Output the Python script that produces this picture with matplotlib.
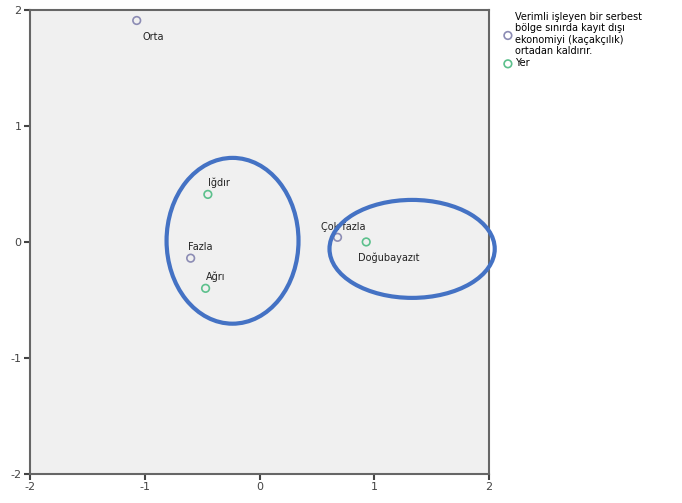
import matplotlib.pyplot as plt
from matplotlib.patches import Ellipse

plt.rcParams["axes.unicode_minus"] = False

# Data
kategori_labels = ["Orta", "Fazla", "Çok fazla"]
kategori_x = [-1.07, -0.60, 0.68]
kategori_y = [1.91, -0.14, 0.04]

yer_labels = ["Iğdır", "Ağrı", "Doğubayazıt"]
yer_x = [-0.45, -0.47, 0.93]
yer_y = [0.41, -0.40, 0.00]

# label offsets (points)
kategori_off = [(4, -14), (-2, 6), (-12, 5)]
yer_off = [(0, 6), (0, 6), (-6, -14)]

legend_1 = ("Verimli işleyen bir serbest\nbölge sınırda kayıt dışı\n"
            "ekonomiyi (kaçakçılık)\nortadan kaldırır.")
legend_2 = "Yer"

fig = plt.figure(figsize=(6.82, 5.03), dpi=100)
ax = fig.add_axes([0.044, 0.058, 0.673, 0.922])
ax.set_facecolor("#f0f0f0")

ax.scatter(kategori_x, kategori_y, s=30, facecolors="none",
           edgecolors="#8c8cb4", linewidths=1.2, label=legend_1, zorder=3)
ax.scatter(yer_x, yer_y, s=30, facecolors="none",
           edgecolors="#5cc08c", linewidths=1.2, label=legend_2, zorder=3)

for lab, x, y, off in zip(kategori_labels, kategori_x, kategori_y, kategori_off):
    ax.annotate(lab, (x, y), xytext=off, textcoords="offset points",
                fontsize=7, color="#222222")
for lab, x, y, off in zip(yer_labels, yer_x, yer_y, yer_off):
    ax.annotate(lab, (x, y), xytext=off, textcoords="offset points",
                fontsize=7, color="#222222")

# hand-drawn highlight ellipses
ax.add_patch(Ellipse((-0.235, 0.01), 1.15, 1.43, fill=False,
                     edgecolor="#4472c4", lw=3, clip_on=False, zorder=4))
ax.add_patch(Ellipse((1.33, -0.06), 1.44, 0.845, fill=False,
                     edgecolor="#4472c4", lw=3, clip_on=False, zorder=4))

ax.set_xlim(-2, 2)
ax.set_ylim(-2, 2)
ax.set_xticks([-2, -1, 0, 1, 2])
ax.set_yticks([-2, -1, 0, 1, 2])
ax.tick_params(direction="out", length=4, width=1.5, labelsize=8,
               colors="#444444", pad=2)
for s in ax.spines.values():
    s.set_color("#666666")
    s.set_linewidth(1.5)

ax.legend(loc="upper left", bbox_to_anchor=(1.02, 1.005), frameon=False,
          fontsize=7, handletextpad=0.1, borderaxespad=0,
          labelspacing=0.2, handlelength=1.2)

fig.savefig("out.png", dpi=100)
